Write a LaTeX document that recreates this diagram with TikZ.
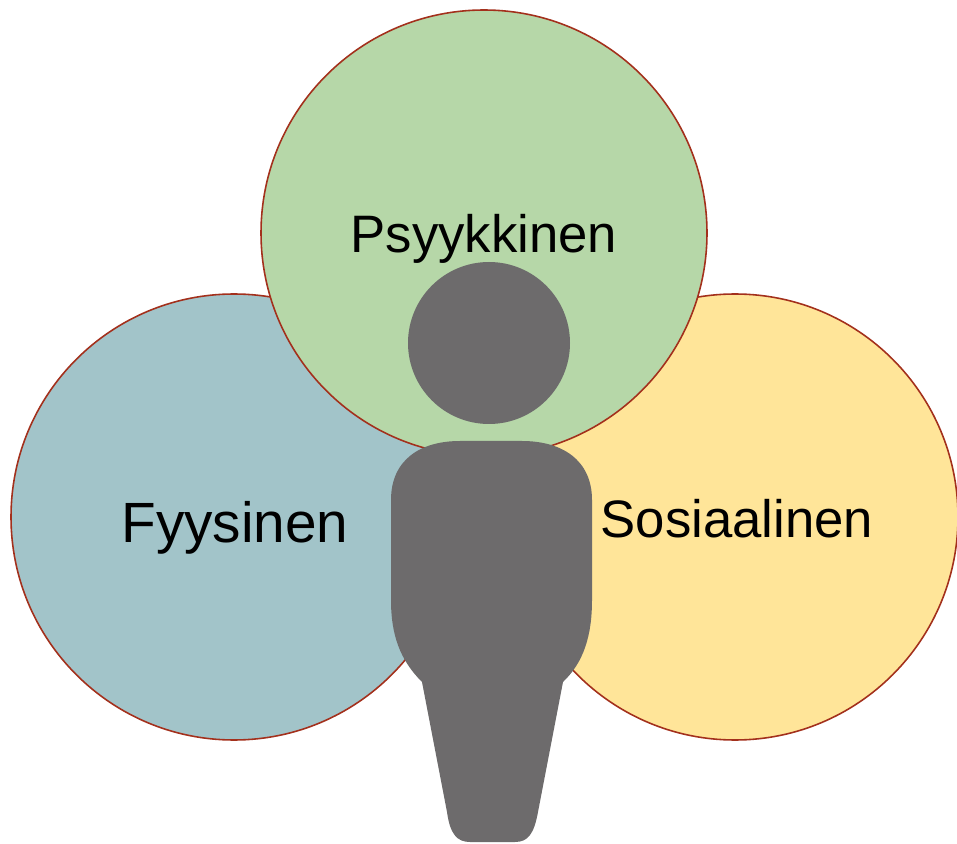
\documentclass[tikz,border=0pt]{standalone}
\usepackage{fontspec}
\setmainfont{Liberation Sans}
\usetikzlibrary{positioning}

\definecolor{fyyscol}{HTML}{A2C4C9}
\definecolor{psykcol}{HTML}{B6D7A8}
\definecolor{soscol}{HTML}{FFE599}
\definecolor{rimcol}{HTML}{A3301C}
\definecolor{personcol}{HTML}{6D6B6C}

\begin{document}
\begin{tikzpicture}
    [
    x=0.02cm, y=-0.02cm,
    sphere/.style={
      draw=rimcol, line width=0.9pt
    },
    person/.style={
      fill=personcol
    },
    areatext/.style={
      anchor=base, inner sep=0pt, text=black
    }
    ]
    \useasboundingbox (0,0) rectangle (957,844);

    % the three areas, bottom ones first
    \def\areas{234/517/fyyscol, 735/517/soscol, 484/233/psykcol}
    \foreach \cx/\cy/\col in \areas {
      \draw[sphere, fill=\col] (\cx,\cy) circle [radius=223];
    }

    % Draw the person
    \fill[person] (489,343) circle [radius=81];
    \fill[person] (422,682) .. controls (400,660) and (391,635) .. (391,600)
                         -- (391,500) .. controls (391,460) and (420,441) .. (460,441)
                         -- (522,441) .. controls (562,441) and (592,460) .. (592,500)
                         -- (592,600) .. controls (592,635) and (584,662) .. (563,682)
                         -- (538,812) .. controls (534,834) and (528,842) .. (515,842)
                         -- (470,842) .. controls (457,842) and (450,834) .. (447,812)
                         -- cycle;

    % labels
    \node[areatext, font=\fontsize{30}{34}\selectfont] (psyk) at (484,253) {Psyykkinen};
    \node[areatext, font=\fontsize{32.3}{36}\selectfont] (fyys) at (235,542) {Fyysinen};
    \node[areatext, font=\fontsize{30}{34}\selectfont] (sos)  at (737,538) {Sosiaalinen};
\end{tikzpicture}
\end{document}
